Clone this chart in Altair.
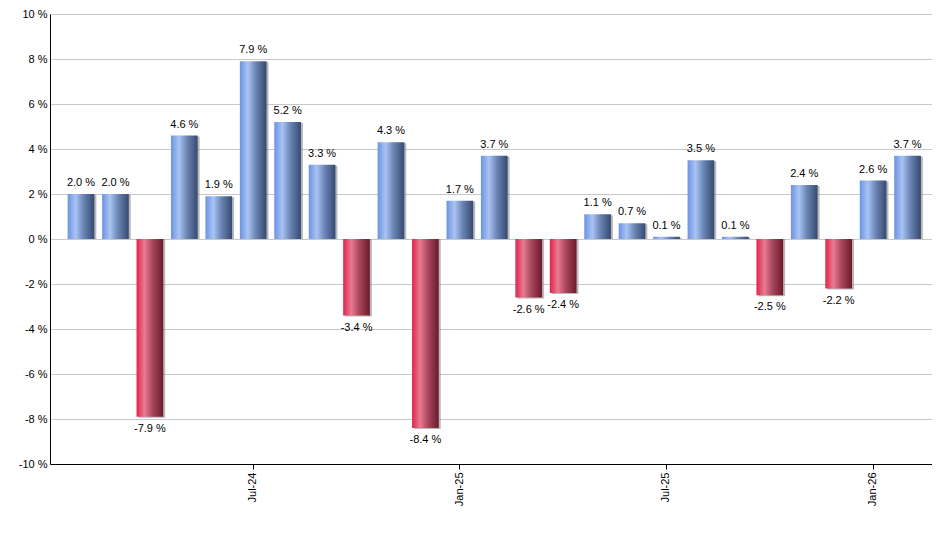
import altair as alt
import pandas as pd

months = ["Feb-24", "Mar-24", "Apr-24", "May-24", "Jun-24", "Jul-24", "Aug-24",
          "Sep-24", "Oct-24", "Nov-24", "Dec-24", "Jan-25", "Feb-25", "Mar-25",
          "Apr-25", "May-25", "Jun-25", "Jul-25", "Aug-25", "Sep-25", "Oct-25",
          "Nov-25", "Dec-25", "Jan-26", "Feb-26"]
values = [2.0, 2.0, -7.9, 4.6, 1.9, 7.9, 5.2, 3.3, -3.4, 4.3, -8.4, 1.7, 3.7,
          -2.6, -2.4, 1.1, 0.7, 0.1, 3.5, 0.1, -2.5, 2.4, -2.2, 2.6, 3.7]
tick_months = ["Jul-24", "Jan-25", "Jul-25", "Jan-26"]
y_ticks = [-10, -8, -6, -4, -2, 0, 2, 4, 6, 8, 10]

df = pd.DataFrame({"month": months, "value": values})
df["label"] = [f"{v:.1f} %" for v in values]

FONT = "Liberation Sans"

x_enc = alt.X(
    "month:N", sort=None, title=None,
    scale=alt.Scale(paddingInner=0.225, paddingOuter=0.4175, align=0.614),
    axis=alt.Axis(values=tick_months, labelAngle=270, labelFontSize=11, labelFont=FONT,
                  labelColor="#000", tickColor="#000", tickSize=5, domainColor="#000",
                  labelPadding=3, grid=False, labelBaseline="middle", labelAlign="right"),
)
y_enc = alt.Y(
    "value:Q", title=None,
    scale=alt.Scale(domain=[-10, 10], nice=False, zero=True),
    axis=alt.Axis(values=y_ticks, labelExpr="datum.value + ' %'", ticks=False,
                  labelFontSize=11, labelFont=FONT, labelColor="#000", domainColor="#000",
                  gridColor="#c8c8c8", gridWidth=1, labelPadding=3),
)

base = alt.Chart(df)

blue = alt.Gradient(gradient="linear", x1=0, x2=1, y1=0, y2=0, stops=[
    alt.GradientStop(color="#6b93e2", offset=0),
    alt.GradientStop(color="#a9c4f3", offset=0.3),
    alt.GradientStop(color="#6a84b4", offset=0.6),
    alt.GradientStop(color="#364a70", offset=1),
])
red = alt.Gradient(gradient="linear", x1=0, x2=1, y1=0, y2=0, stops=[
    alt.GradientStop(color="#df2449", offset=0),
    alt.GradientStop(color="#e97b91", offset=0.3),
    alt.GradientStop(color="#a8475c", offset=0.6),
    alt.GradientStop(color="#6c1a2b", offset=1),
])

shadow = base.mark_bar(color="#8a8a8a", opacity=0.6, xOffset=2, yOffset=1).encode(
    x=x_enc, y=y_enc, y2=alt.datum(0))
pos = base.transform_filter("datum.value >= 0").mark_bar(color=blue).encode(
    x=x_enc, y=y_enc, y2=alt.datum(0))
neg = base.transform_filter("datum.value < 0").mark_bar(color=red).encode(
    x=x_enc, y=y_enc, y2=alt.datum(0))
pos_txt = base.transform_filter("datum.value >= 0").mark_text(
    baseline="bottom", dy=-6, fontSize=11, font=FONT, color="#000").encode(
    x=x_enc, y=y_enc, text="label:N")
neg_txt = base.transform_filter("datum.value < 0").mark_text(
    baseline="top", dy=6, fontSize=11, font=FONT, color="#000").encode(
    x=x_enc, y=y_enc, text="label:N")

chart = alt.layer(shadow, pos, neg, pos_txt, neg_txt).properties(
    width=882, height=450,
    autosize=alt.AutoSizeParams(type="none"),
    padding={"left": 42, "top": 6, "right": 0, "bottom": 70},
).configure_view(stroke=None).configure(background="white")

chart.save("out.html", embed_options={"renderer": "svg", "actions": False})
